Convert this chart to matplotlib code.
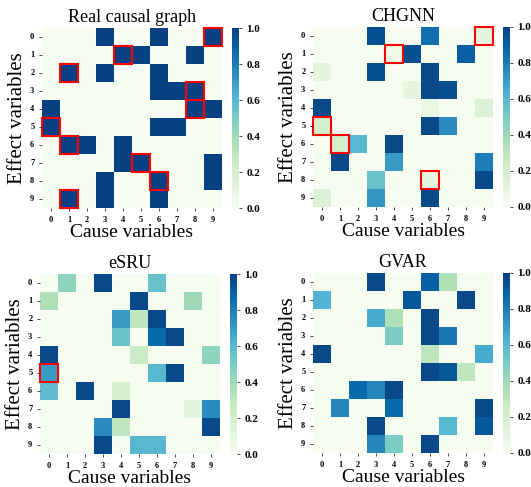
import numpy as np
import matplotlib
matplotlib.use('Agg')
import matplotlib.pyplot as plt
import seaborn as sns
from matplotlib.patches import Rectangle

plt.rcParams['font.family'] = ['Liberation Serif', 'DejaVu Serif']

# === DADOS ===
# (linha = efeito, coluna = causa, valor)
real_links = [(0, 3, 1), (0, 6, 1), (0, 9, 1),
              (1, 4, 1), (1, 5, 1), (1, 8, 1),
              (2, 1, 1), (2, 3, 1), (2, 6, 1),
              (3, 6, 1), (3, 7, 1), (3, 8, 1),
              (4, 0, 1), (4, 8, 1), (4, 9, 1),
              (5, 0, 1), (5, 6, 1), (5, 7, 1),
              (6, 1, 1), (6, 2, 1), (6, 4, 1),
              (7, 4, 1), (7, 5, 1), (7, 9, 1),
              (8, 3, 1), (8, 6, 1), (8, 9, 1),
              (9, 1, 1), (9, 3, 1), (9, 6, 1)]
real_boxes = [(0, 9), (1, 4), (2, 1), (3, 8), (4, 8), (5, 0), (6, 1), (7, 5), (8, 6), (9, 1)]

chgnn_links = [(0, 3, 0.95), (0, 6, 0.85), (0, 9, 0.10),
               (1, 4, 0.05), (1, 5, 0.95), (1, 8, 0.90),
               (2, 0, 0.10), (2, 3, 0.95), (2, 6, 0.97),
               (3, 5, 0.10), (3, 6, 0.97), (3, 7, 0.95),
               (4, 0, 0.97), (4, 6, 0.07), (4, 9, 0.15),
               (5, 0, 0.20), (5, 6, 0.97), (5, 7, 0.75),
               (6, 1, 0.20), (6, 2, 0.60), (6, 4, 0.97),
               (7, 1, 0.97), (7, 4, 0.70), (7, 9, 0.80),
               (8, 3, 0.55), (8, 6, 0.10), (8, 9, 0.97),
               (9, 0, 0.15), (9, 3, 0.72), (9, 6, 0.97)]
chgnn_boxes = [(0, 9), (1, 4), (5, 0), (6, 1), (8, 6)]

esru_links = [(0, 1, 0.45), (0, 3, 0.97), (0, 6, 0.55),
              (1, 0, 0.35), (1, 5, 0.97), (1, 8, 0.40),
              (2, 4, 0.70), (2, 5, 0.30), (2, 6, 0.97),
              (3, 4, 0.55), (3, 6, 0.87), (3, 7, 0.97),
              (4, 0, 0.97), (4, 5, 0.25), (4, 9, 0.45),
              (5, 0, 0.70), (5, 6, 0.60), (5, 7, 0.97),
              (6, 0, 0.58), (6, 2, 0.97), (6, 4, 0.20),
              (7, 4, 0.97), (7, 8, 0.12), (7, 9, 0.75),
              (8, 3, 0.75), (8, 4, 0.30), (8, 9, 0.97),
              (9, 3, 0.97), (9, 5, 0.60), (9, 6, 0.60)]
esru_boxes = [(5, 0)]

gvar_links = [(0, 3, 0.97), (0, 6, 0.90), (0, 7, 0.35),
              (1, 0, 0.62), (1, 5, 0.92), (1, 8, 0.97),
              (2, 3, 0.65), (2, 4, 0.35), (2, 6, 0.97),
              (3, 4, 0.50), (3, 6, 0.97), (3, 7, 0.82),
              (4, 0, 0.97), (4, 6, 0.30), (4, 9, 0.65),
              (5, 6, 0.97), (5, 7, 0.92), (5, 8, 0.30),
              (6, 2, 0.87), (6, 3, 0.77), (6, 4, 0.97),
              (7, 1, 0.77), (7, 4, 0.87), (7, 9, 0.97),
              (8, 3, 0.97), (8, 7, 0.60), (8, 9, 0.92),
              (9, 3, 0.77), (9, 4, 0.50), (9, 6, 0.97)]
gvar_boxes = []

titulos = ['Real causal graph', 'CHGNN', 'eSRU', 'GVAR']
paineis = [(real_links, real_boxes), (chgnn_links, chgnn_boxes),
           (esru_links, esru_boxes), (gvar_links, gvar_boxes)]

# posicoes em pixels (esq, topo) do heatmap
W, H = 531, 487
pos = [(42, 28), (313, 27), (40, 274), (313, 273)]
lado = 180

fig = plt.figure(figsize=(W / 100, H / 100), dpi=100)

for (links, boxes), titulo, (px, py) in zip(paineis, titulos, pos):
    mat = np.zeros((10, 10))
    for r, c, v in links:
        mat[r, c] = v

    ax = fig.add_axes([px / W, 1 - (py + lado) / H, lado / W, lado / H])
    cax = fig.add_axes([(px + 190) / W, 1 - (py + lado) / H, 7 / W, lado / H])
    sns.heatmap(mat, ax=ax, cbar_ax=cax, cmap='GnBu', vmin=0, vmax=1, square=False)

    for r, c in boxes:
        ax.add_patch(Rectangle((c, r), 1, 1, fill=False, edgecolor='red', lw=1.5, clip_on=False))

    ax.set_title(titulo, fontsize=13, pad=4)
    ax.set_xlabel('Cause variables', fontsize=14, labelpad=0)
    ax.set_ylabel('Effect variables', fontsize=15, labelpad=2)
    ax.set_xticks(np.arange(10) + 0.5)
    ax.set_yticks(np.arange(10) + 0.5)
    ax.set_xticklabels(range(10), fontsize=6, fontweight='bold')
    ax.set_yticklabels(range(10), fontsize=6, fontweight='bold', rotation=0)
    ax.tick_params(length=2, width=0.5)

    cax.set_yticks([0, 0.2, 0.4, 0.6, 0.8, 1.0])
    cax.set_yticklabels(['0.0', '0.2', '0.4', '0.6', '0.8', '1.0'], fontsize=8, fontweight='bold')
    cax.tick_params(length=2, width=0.5)

fig.savefig('out.png', dpi=100)
